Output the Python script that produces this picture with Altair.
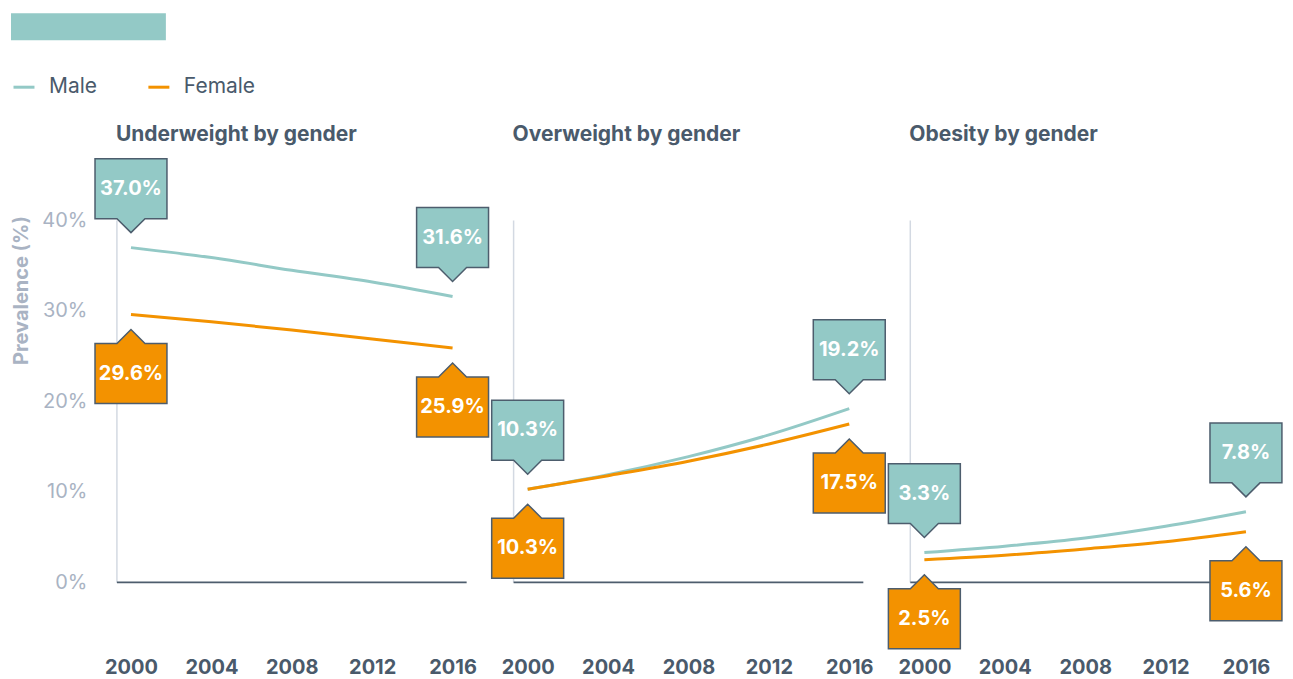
import altair as alt
import pandas as pd

# ---- data ----
years = [2000, 2004, 2008, 2012, 2016]
genders = ["Male", "Female"]
panel_titles = ["Underweight by gender", "Overweight by gender", "Obesity by gender"]
under_male = [37.0, 35.9, 34.5, 33.2, 31.6]
under_female = [29.6, 28.8, 27.9, 26.9, 25.9]
over_male = [10.3, 11.9, 13.9, 16.3, 19.2]
over_female = [10.3, 11.8, 13.4, 15.3, 17.5]
obese_male = [3.3, 4.0, 4.9, 6.2, 7.8]
obese_female = [2.5, 3.0, 3.7, 4.5, 5.6]
y_ticks = [0, 10, 20, 30, 40]

TEAL = "#93c9c6"
ORANGE = "#f39200"
SLATE = "#4d5d6d"
TEXT = "#4a5a6b"
GRAY = "#a9b3c3"
LIGHT = "#d3d9e2"
FONT = "Inter"

W, H = 350, 489
YDOM = [-7, 47]
XDOM = [1999.3, 2016.7]

PATH_UP = "M-1,-2.472L1,-2.472L1,-0.806L0.39,-0.806L0,-0.417L-0.39,-0.806L-1,-0.806Z"
PATH_DOWN = "M-1,2.472L1,2.472L1,0.806L0.39,0.806L0,0.417L-0.39,0.806L-1,0.806Z"

color_scale = alt.Scale(domain=genders, range=[TEAL, ORANGE])


def panel(i, title, male, female):
    rows = []
    for g, vals in zip(genders, [male, female]):
        for yr, v in zip(years, vals):
            rows.append({"year": yr, "value": v, "gender": g})
    df = pd.DataFrame(rows)
    ends = df[df["year"].isin([years[0], years[-1]])]

    xenc = alt.X(
        "year:Q",
        scale=alt.Scale(domain=XDOM, nice=False, zero=False),
        axis=alt.Axis(values=years, format="d", labelFontSize=20, labelFontWeight="bold",
                      labelColor=TEXT, labelFont=FONT, labelPadding=12, domain=False,
                      ticks=False, grid=False, title=None),
    )
    if i == 0:
        yaxis = alt.Axis(values=y_ticks, labelExpr="datum.value + '%'", title="Prevalence (%)",
                         titleX=-95, titleY=133, titleAngle=270, titleAlign="center",
                         titleBaseline="middle", titleFontWeight="bold", titleFontSize=20,
                         titleColor=GRAY, titleFont=FONT, labelColor=GRAY, labelFontSize=20,
                         labelFont=FONT, labelPadding=30, domain=False, ticks=False, grid=False)
    else:
        yaxis = None
    yenc = alt.Y("value:Q", scale=alt.Scale(domain=YDOM, nice=False, zero=False), axis=yaxis)

    vrule = alt.Chart(pd.DataFrame({"value": [0], "value2": [40]})).mark_rule(
        color=LIGHT, strokeWidth=1.5).encode(x=alt.value(0), y=yenc, y2="value2:Q")
    base_rule = alt.Chart(pd.DataFrame({"value": [0]})).mark_rule(
        color=SLATE, strokeWidth=1.8).encode(y=yenc)

    lines = alt.Chart(df).mark_line(strokeWidth=3, interpolate="monotone").encode(
        x=xenc, y=yenc,
        color=alt.Color("gender:N", scale=color_scale, sort=genders,
                        legend=alt.Legend(title=None, orient="none", legendX=-105, legendY=-82,
                                          direction="horizontal", symbolType="stroke",
                                          symbolSize=441, symbolStrokeWidth=3,
                                          labelFontSize=21, labelFont=FONT, labelColor=TEXT,
                                          labelOffset=13, columnPadding=44)),
        detail="gender:N",
    )

    title_txt = alt.Chart(pd.DataFrame({"t": [title]})).mark_text(
        align="left", baseline="middle", fontSize=21, font=FONT, fontWeight="bold",
        color=TEXT).encode(x=alt.value(-1), y=alt.value(-22), text="t:N")

    layers = [vrule, base_rule, lines]
    for g, path, dy in [("Male", PATH_UP, -59), ("Female", PATH_DOWN, 59)]:
        sub = ends[ends["gender"] == g]
        box = alt.Chart(sub).mark_point(shape=path, size=5184, filled=True, stroke=SLATE,
                                         strokeWidth=1.5, opacity=1, fillOpacity=1).encode(
            x=xenc, y=yenc, color=alt.Color("gender:N", scale=color_scale, legend=None))
        txt = alt.Chart(sub).transform_calculate(
            lbl="format(datum.value, '.1f') + '%'").mark_text(
            dy=dy, color="white", fontWeight="bold", fontSize=20, font=FONT).encode(
            x=xenc, y=yenc, text="lbl:N")
        layers += [box, txt]
    layers.append(title_txt)

    if i == 0:
        rect = alt.Chart(pd.DataFrame({"a": [0]})).mark_rect(color=TEAL).encode(
            x=alt.value(-106), x2=alt.value(49), y=alt.value(-144), y2=alt.value(-117))
        layers.append(rect)

    return alt.layer(*layers).properties(width=W, height=H)


data_sets = [(under_male, under_female), (over_male, over_female), (obese_male, obese_female)]
panels = [panel(i, t, m, f) for i, (t, (m, f)) in enumerate(zip(panel_titles, data_sets))]

chart = alt.hconcat(*panels, spacing=47, bounds="flush").properties(
    padding={"left": 3, "top": 5, "right": 0, "bottom": 0}
).configure_view(stroke=None)

chart.save("out.html", embed_options={"renderer": "svg", "actions": False})
